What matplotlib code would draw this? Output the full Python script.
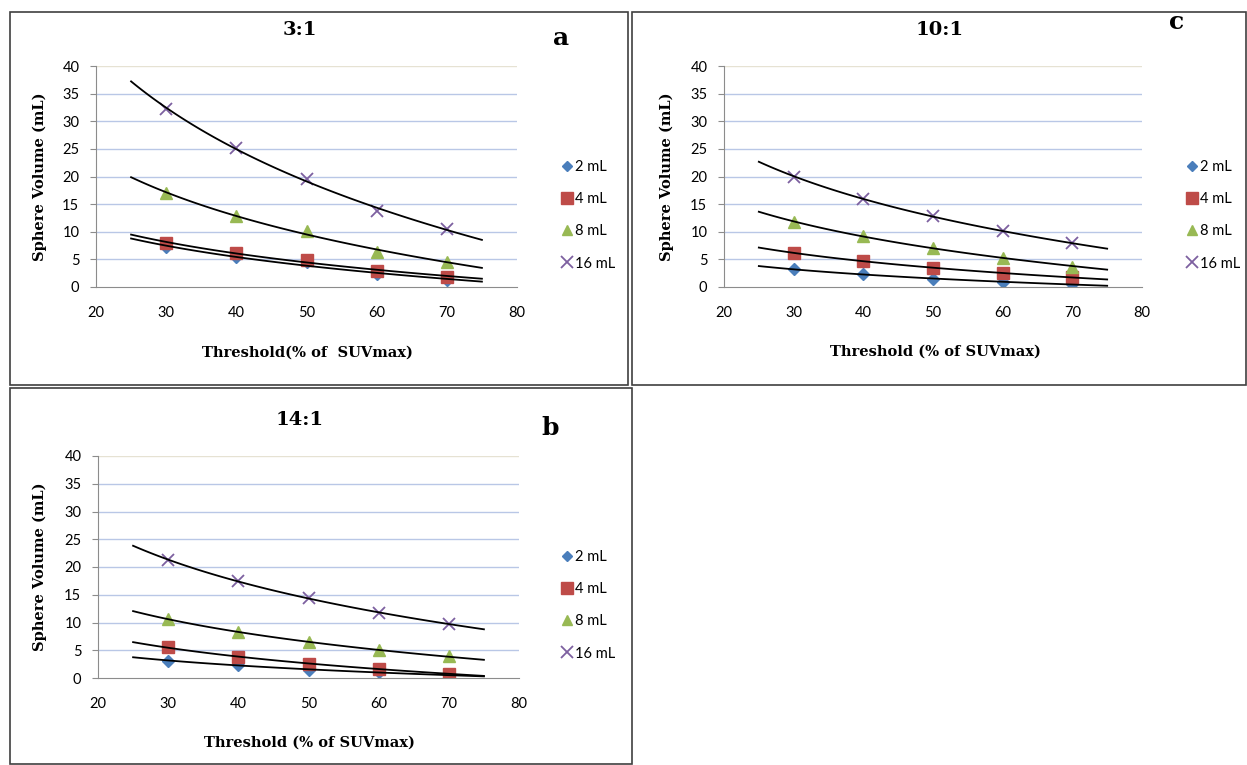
import numpy as np
import matplotlib
matplotlib.use('Agg')
import matplotlib.pyplot as plt
from matplotlib.patches import Rectangle

threshold = [30, 40, 50, 60, 70]
labels = ['2 mL', '4 mL', '8 mL', '16 mL']

# ratio 3:1 (panel a)
a_2 = [7.3, 5.4, 4.5, 2.3, 1.3]
a_4 = [8.0, 6.1, 4.9, 2.9, 1.9]
a_8 = [17.0, 12.8, 10.2, 6.3, 4.5]
a_16 = [32.3, 25.1, 19.5, 13.8, 10.5]

# ratio 10:1 (panel c)
c_2 = [3.2, 2.3, 1.5, 0.9, 0.5]
c_4 = [6.2, 4.7, 3.4, 2.5, 1.8]
c_8 = [11.8, 9.2, 7.1, 5.3, 3.7]
c_16 = [20.0, 16.0, 12.8, 10.1, 7.9]

# ratio 14:1 (panel b)
b_2 = [3.1, 2.4, 1.5, 1.0, 0.5]
b_4 = [5.5, 3.8, 2.6, 1.6, 0.8]
b_8 = [10.7, 8.2, 6.4, 5.1, 3.9]
b_16 = [21.3, 17.4, 14.4, 11.8, 9.7]

colors = ['#4a7ebb', '#be4b48', '#98b954', '#7d60a0']
markers = ['D', 's', '^', 'x']
msizes = [6, 9, 8, 9]

W, H = 1247, 765
fig = plt.figure(figsize=(W / 100, H / 100), dpi=100)


def px(x0, y0, x1, y1):
    return [x0 / W, 1 - y1 / H, (x1 - x0) / W, (y1 - y0) / H]


# panel frames
for (x0, y0, x1, y1) in [(10, 12, 628, 385), (632, 12, 1246, 385), (10, 388, 632, 764)]:
    fig.patches.append(Rectangle((x0 / W, 1 - y1 / H), (x1 - x0) / W, (y1 - y0) / H,
                                 transform=fig.transFigure, fill=False,
                                 edgecolor='#404040', lw=1.2))

panels = [
    dict(box=(96, 66, 517, 287), data=[a_2, a_4, a_8, a_16], title='3:1', tx=300, ty=30,
         tag='a', gx=561, gy=38, leg=(555, 167), ylx=40, xlab='Threshold(% of  SUVmax)', xlx=307, xly=353),
    dict(box=(724, 66, 1142, 287), data=[c_2, c_4, c_8, c_16], title='10:1', tx=940, ty=30,
         tag='c', gx=1177, gy=22, leg=(1180, 167), ylx=667, xlab='Threshold (% of SUVmax)', xlx=935, xly=352),
    dict(box=(98, 456, 519, 678), data=[b_2, b_4, b_8, b_16], title='14:1', tx=300, ty=420,
         tag='b', gx=550, gy=428, leg=(555, 557), ylx=40, xlab='Threshold (% of SUVmax)', xlx=309, xly=743),
]

xfit = np.linspace(25, 75, 100)

for p in panels:
    ax = fig.add_axes(px(*p['box']))
    x = np.array(threshold)
    handles = []
    for vals, c, m, ms in zip(p['data'], colors, markers, msizes):
        y = np.array(vals)
        # logarithmic trendline like Excel
        k, b = np.polyfit(np.log(x), y, 1)
        ax.plot(xfit, b + k * np.log(xfit), color='black', lw=1.3, zorder=3)
        if m == 'x':
            h, = ax.plot(x, y, ls='none', marker=m, color=c, ms=ms, mew=1.3, zorder=2)
        else:
            h, = ax.plot(x, y, ls='none', marker=m, color=c, ms=ms, mec=c, zorder=2)
        handles.append(h)
    ax.set_xlim(20, 80)
    ax.set_ylim(0, 40)
    ax.set_xticks(range(20, 81, 10))
    ax.set_yticks(range(0, 41, 5))
    for g in range(5, 36, 5):
        ax.axhline(g, color='#b9c7e6', lw=1.0, zorder=0)
    ax.axhline(40, color='#e6e2d3', lw=1.0, zorder=0)
    for s in ['top', 'right']:
        ax.spines[s].set_visible(False)
    for s in ['left', 'bottom']:
        ax.spines[s].set_color('#8c8c8c')
    ax.tick_params(axis='y', length=4, color='#8c8c8c', pad=8)
    ax.tick_params(axis='x', length=0, pad=14)
    for t in ax.get_xticklabels() + ax.get_yticklabels():
        t.set_fontfamily('Lato')
        t.set_fontsize(10.5)

    fig.text(p['tx'] / W, 1 - p['ty'] / H, p['title'], ha='center', va='center',
             family='DejaVu Serif', weight='bold', fontsize=14)
    fig.text(p['gx'] / W, 1 - p['gy'] / H, p['tag'], ha='center', va='center',
             family='DejaVu Serif', weight='bold', fontsize=18)
    cy = (p['box'][1] + p['box'][3]) / 2
    fig.text(p['ylx'] / W, 1 - cy / H, 'Sphere Volume (mL)', ha='center', va='center',
             rotation=90, family='DejaVu Serif', weight='bold', fontsize=10.5)
    fig.text(p['xlx'] / W, 1 - p['xly'] / H, p['xlab'], ha='center', va='center',
             family='DejaVu Serif', weight='bold', fontsize=10.5)

    lx, ly = p['leg']
    ax.legend(handles, labels, loc='upper left', frameon=False,
              bbox_to_anchor=(lx / W, 1 - (ly - 13) / H), bbox_transform=fig.transFigure,
              prop=dict(family='Lato', size=10.5), handlelength=0.8, handletextpad=0.2,
              labelspacing=1.25, markerscale=0.9, borderaxespad=0)

fig.savefig('out.png', dpi=100)
